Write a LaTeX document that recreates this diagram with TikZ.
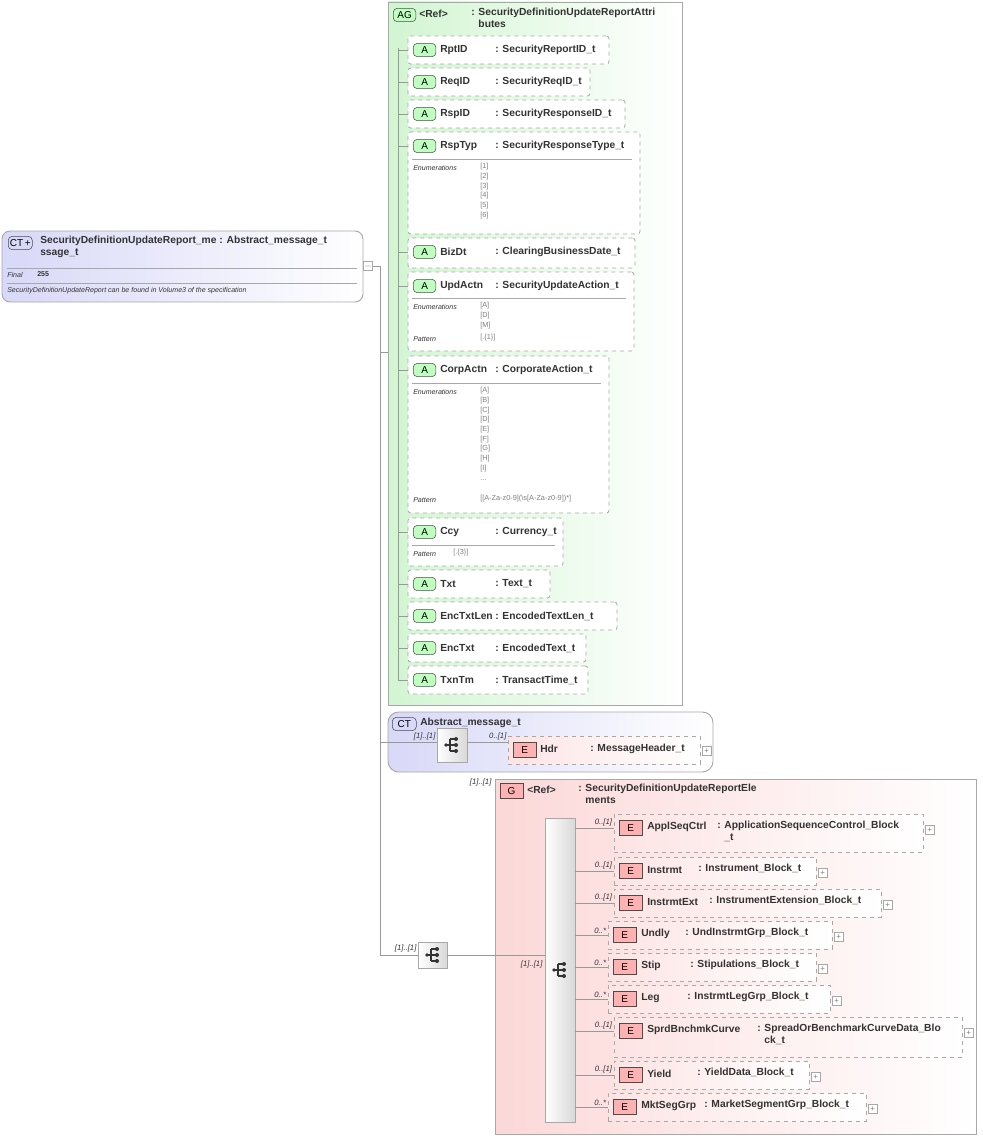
\documentclass[tikz,border=0pt]{standalone}
\usepackage{fontspec}
\setmainfont{Liberation Sans}
\usetikzlibrary{fit}
\definecolor{grn}{HTML}{D2F5D2}
\definecolor{lav}{HTML}{D8D8F8}
\definecolor{pnk}{HTML}{FCD8D8}
\definecolor{bdr}{HTML}{A8A8A8}
\definecolor{txt}{HTML}{333333}
\tikzset{
 conn/.style={draw=gray!80,line width=0.6pt},
 attrbox/.style={draw=bdr,dashed,fill=white,inner sep=0pt,rounded corners=2pt,line width=0.6pt},
 elbox/.style={draw=bdr,dashed,left color=pnk!70,right color=white,inner sep=0pt,line width=0.6pt},
 abadge/.style={draw=black!70,fill=green!25,rounded corners=3pt,minimum width=17pt,minimum height=10pt,inner sep=0pt,font=\fontsize{7.5}{8}\selectfont},
 ebadge/.style={draw=black!70,fill=red!30,minimum width=17pt,minimum height=11pt,inner sep=0pt,font=\fontsize{7.5}{8}\selectfont},
 ctbadge/.style={draw=black!70,fill=lav,rounded corners=3pt,minimum width=18pt,minimum height=10pt,inner sep=0pt,font=\fontsize{7.5}{8}\selectfont},
 nm/.style={anchor=west,inner sep=0pt,font=\fontsize{7.7}{9.2}\selectfont\bfseries,text=txt},
 sm/.style={anchor=west,inner sep=0pt,font=\fontsize{5.3}{6.5}\selectfont\itshape,text=txt},
 en/.style={anchor=north west,inner sep=0pt,font=\fontsize{5.5}{7.3}\selectfont,text=gray,align=left},
 card/.style={anchor=south east,inner sep=1pt,font=\fontsize{5.8}{6}\selectfont\itshape,text=txt},
 plus/.style={draw=bdr,fill=white,minimum size=6.5pt,inner sep=0pt,font=\fontsize{6}{6}\selectfont,text=gray},
 seqbox/.style={draw=bdr,left color=white,right color=gray!30,inner sep=0pt,line width=0.6pt},
}
\newcommand\seqicon[1]{\fill[black!80] (#1) ++(-6,0) circle(1.8);
 \draw[black!80,line width=0.8pt] (#1) ++(-6,0) -- ++(4,0) ++(0,-6) -- ++(0,12) ++(0,-12) -- ++(5,0) ++(-5,6) -- ++(5,0) ++(-5,6) -- ++(5,0);
 \fill[black!80] (#1) ++(4,-6) circle(2) ++(0,6) circle(2) ++(0,6) circle(2);}
\newcommand\attr[7]{%
 \node[attrbox,fit={(#2,#3)(#4,#5)}] (#1) {};
 \path (#2,#3) ++(5,14) node[abadge,anchor=west] (#1b) {A};
 \path (#2,#3) ++(32,14) node[nm] (#1n) {#6};
 \path (495,#3) ++(0,14) node[nm] {: #7};
 \draw[conn] (#1b.west -| trunkA) -- (#1b.west -| #1.west);}
\newcommand\sep[3]{\draw[bdr] (412,#1) -- (#2,#1);}
\newcommand\elem[9]{%
 \node[elbox,fit={(#2,#3)(#4,#5)}] (#1) {};
 \path (#2,#3) ++(5,14) node[ebadge,anchor=west] (#1b) {E};
 \path (#2,#3) ++(33,13) node[nm] (#1n) {#6};
 \path (#7,#3) ++(0,7) node[nm,anchor=north west,align=left] {#8};
 \path (#4,#3) ++(2,16) node[plus,anchor=west] {+};
 \draw[conn] (#1b.west -| trunkE) -- (#1b.west -| #1.west);
 \node[card] at (#1b.west -| #1.west) {#9};}
\begin{document}
\begin{tikzpicture}[x=0.75pt,y=-0.75pt]
\useasboundingbox (0,0) rectangle (982,1138);
% main CT
\node[draw=bdr,rounded corners=6pt,left color=lav,right color=white,fit={(2,231)(363,302)},inner sep=0pt,line width=0.7pt] (main) {};
\node[ctbadge,anchor=west] (mainb) at (8,243) {CT\,+};
\node[nm,anchor=north west,align=left] (maint) at (40,236) {SecurityDefinitionUpdateReport\_me : Abstract\_message\_t\\ssage\_t};
\draw[bdr] (7,268) -- (357,268) (7,283) -- (357,283);
\node[sm] at (7,275) {Final};
\node[sm,font=\fontsize{5.3}{6}\selectfont\bfseries] at (37,274.5) {255};
\node[sm] at (7,291) {SecurityDefinitionUpdateReport can be found in Volume3 of the specification};
\node[plus] (mainp) at (368,266) {$-$};
\coordinate (trunk) at (380,266);
\draw[conn] (mainp.east) -- (trunk) -- (380,955);
% AG
\node[draw=bdr,left color=grn,right color=white,fit={(388,2)(682,705)},inner sep=0pt,line width=0.7pt] (ag) {};
\draw[conn] (380,352) -- (388,352);
\node[abadge,anchor=west] at (393,15) {AG};
\node[nm] at (419,14) {<Ref>};
\node[nm,anchor=north west,align=left] at (471,8) {: SecurityDefinitionUpdateReportAttri\\\phantom{: }butes};
\coordinate (trunkA) at (398,48);
\draw[conn] (trunkA) -- (398,680);
\attr{rptID}{408}{36}{609}{64}{RptID}{SecurityReportID\_t}
\attr{reqID}{408}{68}{590}{96}{ReqID}{SecurityReqID\_t}
\attr{rspID}{408}{100}{625}{128}{RspID}{SecurityResponseID\_t}
\attr{rspTyp}{408}{132}{640}{234}{RspTyp}{SecurityResponseType\_t}
\sep{159}{632}{}
\node[sm] at (413,168) {Enumerations};
\node[en] at (480,163) {[1]\\[0pt][2]\\[0pt][3]\\[0pt][4]\\[0pt][5]\\[0pt][6]};
\attr{bizDt}{408}{238}{635}{268}{BizDt}{ClearingBusinessDate\_t}
\attr{updActn}{408}{272}{634}{351}{UpdActn}{SecurityUpdateAction\_t}
\sep{298}{626}{}
\node[sm] at (413,307) {Enumerations};
\node[en] at (480,302) {[A]\\[0pt][D]\\[0pt][M]};
\node[sm] at (413,339) {Pattern};
\node[en] at (480,334) {[.\{1\}]};
\attr{corpActn}{408}{356}{609}{513}{CorpActn}{CorporateAction\_t}
\sep{383}{601}{}
\node[sm] at (413,392) {Enumerations};
\node[en] at (480,387) {[A]\\[0pt][B]\\[0pt][C]\\[0pt][D]\\[0pt][E]\\[0pt][F]\\[0pt][G]\\[0pt][H]\\[0pt][I]\\[0pt]...};
\node[sm] at (413,500) {Pattern};
\node[en] at (480,495) {[[A-Za-z0-9](\textbackslash s[A-Za-z0-9])*]};
\attr{ccy}{408}{518}{563}{566}{Ccy}{Currency\_t}
\sep{545}{555}{}
\node[sm] at (413,554) {Pattern};
\node[en] at (453,549) {[.\{3\}]};
\attr{txt}{408}{570}{550}{598}{Txt}{Text\_t}
\attr{encTxtLen}{408}{602}{617}{630}{EncTxtLen}{EncodedTextLen\_t}
\attr{encTxt}{408}{634}{586}{662}{EncTxt}{EncodedText\_t}
\attr{txnTm}{408}{666}{588}{694}{TxnTm}{TransactTime\_t}
% Abstract CT
\node[draw=bdr,rounded corners=8pt,left color=lav,right color=white,fit={(388,712)(713,772)},inner sep=0pt,line width=0.7pt] (abs) {};
\node[ctbadge,anchor=west] at (392,724) {CT};
\node[nm] at (420,723) {Abstract\_message\_t};
\node[seqbox,fit={(437,728)(467,762)}] (seq1) {};
\seqicon{452,745}
\draw[conn] (380,742) -- (seq1.west |- 0,742);
\node[card] at (437,742) {[1]..[1]};
\node[elbox,fit={(508,736)(700,764)}] (hdr) {};
\node[ebadge,anchor=west] (hdrb) at (513,750) {E};
\node[nm] at (540,749) {Hdr};
\node[nm] at (590,749) {: MessageHeader\_t};
\node[plus,anchor=west] at (702,751) {+};
\draw[conn] (seq1.east |- 0,742) -- (hdr.west |- 0,742);
\node[card] at (508,742) {0..[1]};
% G group
\node[draw=bdr,left color=pnk,right color=white,fit={(495,779)(976,1134)},inner sep=0pt,line width=0.7pt] (grp) {};
\node[card,anchor=north east] at (493,777) {[1]..[1]};
\node[ebadge,anchor=west] at (500,791) {G};
\node[nm] at (527,790) {<Ref>};
\node[nm,anchor=north west,align=left] at (578,784) {: SecurityDefinitionUpdateReportEle\\\phantom{: }ments};
\node[seqbox,fit={(418,942)(447,968)}] (seq2) {};
\seqicon{433,955}
\draw[conn] (380,955) -- (seq2.west |- 0,955);
\node[card] at (418,954) {[1]..[1]};
\node[seqbox,fit={(545,818)(575,1122)}] (seq3) {};
\seqicon{560,970}
\draw[conn] (seq2.east |- 0,955) -- (seq3.west |- 0,955);
\node[card] at (544,970) {[1]..[1]};
\coordinate (trunkE) at (575,830);
\elem{applSeqCtrl}{614}{814}{923}{852}{ApplSeqCtrl}{717}{: ApplicationSequenceControl\_Block\\\phantom{: }\_t}{0..[1]}
\elem{instrmt}{614}{857}{816}{885}{Instrmt}{698}{: Instrument\_Block\_t}{0..[1]}
\elem{instrmtExt}{614}{889}{881}{917}{InstrmtExt}{709}{: InstrumentExtension\_Block\_t}{0..[1]}
\elem{undly}{608}{921}{832}{949}{Undly}{685}{: UndInstrmtGrp\_Block\_t}{0..*}
\elem{stip}{608}{953}{816}{981}{Stip}{690}{: Stipulations\_Block\_t}{0..*}
\elem{leg}{608}{985}{830}{1013}{Leg}{687}{: InstrmtLegGrp\_Block\_t}{0..*}
\elem{sprd}{614}{1017}{962}{1057}{SprdBnchmkCurve}{757}{: SpreadOrBenchmarkCurveData\_Blo\\\phantom{: }ck\_t}{0..[1]}
\elem{yield}{614}{1061}{809}{1089}{Yield}{697}{: YieldData\_Block\_t}{0..[1]}
\elem{mktSegGrp}{608}{1093}{866}{1121}{MktSegGrp}{704}{: MarketSegmentGrp\_Block\_t}{0..*}
\end{tikzpicture}
\end{document}
